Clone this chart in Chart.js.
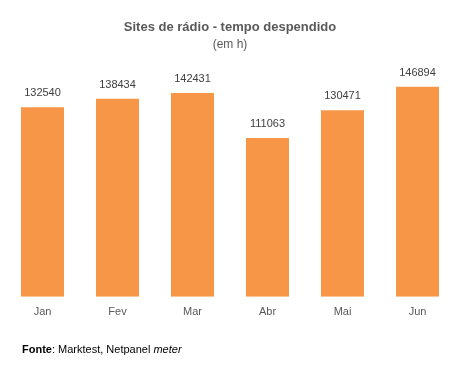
<!DOCTYPE html>
<html>
<head>
<meta charset="utf-8">
<script src="https://cdn.jsdelivr.net/npm/chart.js@4/dist/chart.umd.min.js"></script>
<style>
  html, body { margin: 0; padding: 0; background: #fff; }
  #wrap { position: relative; width: 460px; height: 369px; }
  #footer {
    position: absolute; left: 22px; top: 343px;
    font-family: "Liberation Sans", Arial, sans-serif; font-size: 11px; color: #000;
  }
</style>
</head>
<body>
<div id="wrap">
  <canvas id="chart" width="460" height="369"></canvas>
  <div id="footer"><b>Fonte</b>: Marktest, Netpanel <i>meter</i></div>
</div>
<script>
const months = ["Jan", "Fev", "Mar", "Abr", "Mai", "Jun"];
const hours = [132540, 138434, 142431, 111063, 130471, 146894];

const valueLabels = {
    id: "valueLabels",
    afterDatasetsDraw(chart) {
        const ctx = chart.ctx;
        const meta = chart.getDatasetMeta(0);
        ctx.save();
        ctx.font = "11px 'Liberation Sans', Arial, sans-serif";
        ctx.fillStyle = "#404040";
        ctx.textAlign = "center";
        ctx.textBaseline = "middle";
        meta.data.forEach((bar, i) => {
            ctx.fillText(String(hours[i]), bar.x, bar.y - 14);
        });
        ctx.restore();
    }
};

new Chart(document.getElementById("chart"), {
    type: "bar",
    data: {
        labels: months,
        datasets: [{
            data: hours,
            backgroundColor: "#F79646",
            categoryPercentage: 1,
            barPercentage: 0.573
        }]
    },
    options: {
        responsive: false,
        animation: false,
        layout: { padding: { left: 5, right: 5, top: 20, bottom: 49 } },
        plugins: {
            legend: { display: false },
            tooltip: { enabled: false },
            title: {
                display: true,
                text: "Sites de rádio - tempo despendido",
                color: "#595959",
                font: { family: "'Liberation Sans', Arial, sans-serif", size: 13, weight: "bold" },
                padding: { top: 0, bottom: 2 }
            },
            subtitle: {
                display: true,
                text: "(em h)",
                color: "#595959",
                font: { family: "'Liberation Sans', Arial, sans-serif", size: 12 },
                padding: { top: 0, bottom: 16 }
            }
        },
        scales: {
            x: {
                grid: { display: false },
                border: { display: false },
                ticks: { color: "#595959", font: { family: "'Liberation Sans', Arial, sans-serif", size: 11 }, padding: 1 }
            },
            y: {
                display: false,
                min: 0,
                max: 160000
            }
        }
    },
    plugins: [valueLabels]
});
</script>
</body>
</html>
